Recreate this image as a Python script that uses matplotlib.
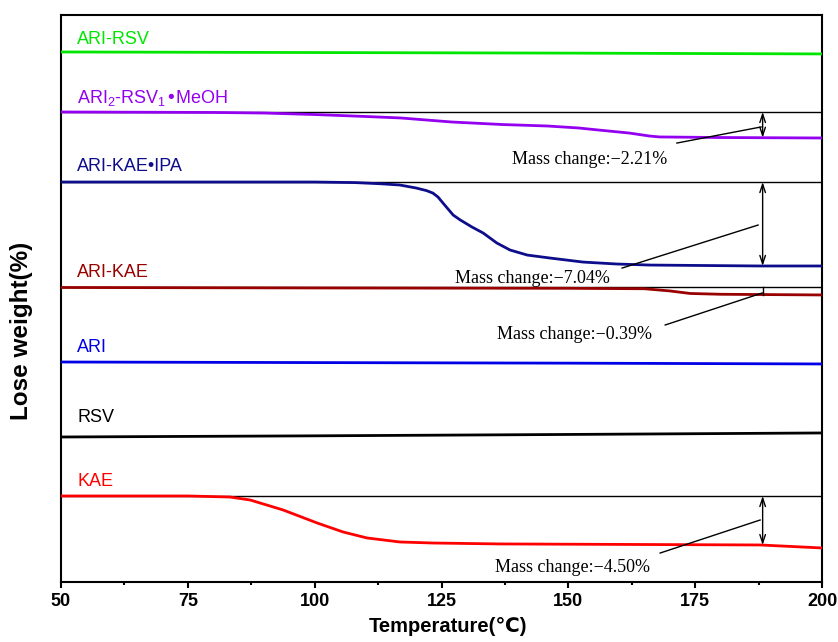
import numpy as np
import matplotlib
matplotlib.use("Agg")
import matplotlib.pyplot as plt

plt.rcParams['font.family'] = ['Liberation Sans', 'DejaVu Sans']
plt.rcParams['mathtext.default'] = 'regular'

# data: mass % vs temperature (each curve starts at 100 %)
t_ari_rsv = [50, 100, 150, 200]
m_ari_rsv = [100, 99.95, 99.9, 99.83]

t_meoh = [50, 80, 90, 100, 110, 117, 127, 137, 146, 152, 156, 162, 166, 168, 180, 200]
m_meoh = [100, 99.96, 99.91, 99.78, 99.61, 99.48, 99.13, 98.91, 98.78, 98.61, 98.43,
          98.17, 97.91, 97.83, 97.78, 97.74]

t_ipa = [50, 100, 108, 113, 116.8, 120, 122, 123.3, 124.3, 125.3, 127.3, 128.7, 131.0,
         133.2, 135.9, 138.5, 141.9, 146.4, 152.9, 159.6, 166.1, 187.8, 200]
m_ipa = [100, 100, 99.95, 99.85, 99.74, 99.48, 99.26, 99.04, 98.70, 98.17, 97.13, 96.70,
         96.09, 95.57, 94.70, 94.09, 93.65, 93.39, 93.04, 92.87, 92.78, 92.70, 92.70]

t_ari_kae = [50, 100, 150, 165, 170, 174, 180, 200]
m_ari_kae = [100, 99.96, 99.93, 99.89, 99.70, 99.48, 99.41, 99.35]

t_ari = [50, 100, 150, 200]
m_ari = [100, 99.95, 99.9, 99.83]

t_rsv = [50, 100, 150, 200]
m_rsv = [100, 100.1, 100.22, 100.35]

t_kae = [50, 75, 83.3, 87.3, 93.8, 100.5, 105.6, 110.3, 116.8, 123.3, 136.5, 187.8, 200]
m_kae = [100, 100, 99.91, 99.65, 98.78, 97.65, 96.87, 96.35, 96.0, 95.91, 95.83, 95.74, 95.48]

names = ["ARI-RSV", "ARI$_2$-RSV$_1$•MeOH", "ARI-KAE•IPA", "ARI-KAE", "ARI", "RSV", "KAE"]
mass_changes = [None, "−2.21%", "−7.04%", "−0.39%", None, None, "−4.50%"]

# layout: vertical stacking offsets and colours
offsets = [46.09, 40.87, 34.78, 25.61, 19.13, 12.61, 7.48]
colors = ["#00e600", "#9400f0", "#0d0d8c", "#990000", "#0000e6", "#000000", "#ff0000"]
label_y = [46.78, 41.65, 35.74, 26.52, 20.0, 13.91, 8.35]
curves = [(t_ari_rsv, m_ari_rsv), (t_meoh, m_meoh), (t_ipa, m_ipa), (t_ari_kae, m_ari_kae),
          (t_ari, m_ari), (t_rsv, m_rsv), (t_kae, m_kae)]

arrow_t = 188.3
# text position (T, y) and leader line ((T0, y0), (T1, y1)) for each mass-change note
notes = {
    1: ((154.2, 36.35), (171.4, 38.17), (188.0, 39.57)),
    2: ((143.0, 26.0), (160.6, 27.30), (187.4, 31.04)),
    3: ((151.2, 21.13), (169.1, 22.35), (188.2, 25.13)),
    6: ((150.9, 0.87), (168.1, 2.52), (187.8, 5.39)),
}

fig = plt.figure(figsize=(8.38, 6.42), dpi=100)
ax = fig.add_axes([61 / 838, 60 / 642, 761 / 838, 567 / 642])

for i, (t, m) in enumerate(curves):
    t = np.array(t)
    y = offsets[i] + np.array(m) - 100
    ax.plot(t, y, color=colors[i], lw=2.0, zorder=3)
    ax.text(53.2, label_y[i], names[i], color=colors[i], fontsize=13, va="baseline", ha="left")

    if mass_changes[i] is not None:
        # reference line at start weight
        ax.plot([50, 200], [offsets[i], offsets[i]], color="black", lw=1.0, zorder=2)
        y_end = offsets[i] + np.interp(arrow_t, t, m) - 100
        if i == 3:
            ax.plot([arrow_t, arrow_t], [offsets[i], y_end], color="black", lw=1.0, zorder=4)
        else:
            ax.annotate("", xy=(arrow_t, y_end), xytext=(arrow_t, offsets[i]),
                        arrowprops=dict(arrowstyle="<->,head_length=0.6,head_width=0.2",
                                        color="black", lw=1.0, shrinkA=0, shrinkB=0),
                        zorder=4)
        (tx, ty), (x0, y0), (x1, y1) = notes[i]
        ax.plot([x0, x1], [y0, y1], color="black", lw=1.0, zorder=4)
        ax.text(tx, ty, "Mass change:" + mass_changes[i], family="Liberation Serif",
                fontsize=13, ha="center", va="baseline")

ax.set_xlim(50, 200)
ax.set_ylim(0, 567 / 11.5)
ax.set_xticks([50, 75, 100, 125, 150, 175, 200])
ax.set_xticks([62.5, 87.5, 112.5, 137.5, 162.5, 187.5], minor=True)
ax.tick_params(axis="x", which="major", direction="out", length=4, width=1.5, labelsize=13, pad=4)
ax.tick_params(axis="x", which="minor", direction="out", length=2.5, width=1.5)
for lab in ax.get_xticklabels():
    lab.set_fontweight("bold")
ax.set_yticks([])
for sp in ax.spines.values():
    sp.set_linewidth(1.5)

ax.set_xlabel("Temperature(℃)", fontsize=14.5, fontweight="bold")
ax.xaxis.set_label_coords(0.509, -0.062)
ax.set_ylabel("Lose weight(%)", fontsize=17.5, fontweight="bold")
ax.yaxis.set_label_coords(-0.037, 0.443)

fig.savefig("out.png", dpi=100)
